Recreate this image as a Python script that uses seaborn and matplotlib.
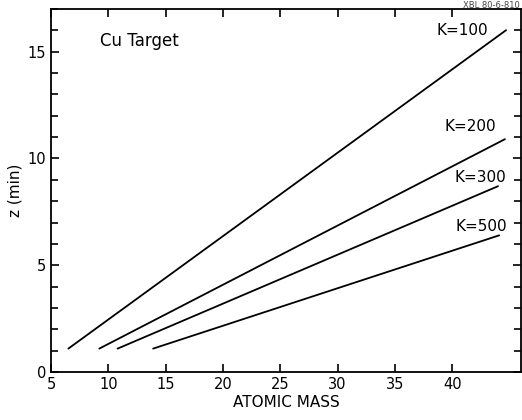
import numpy as np
import pandas as pd
import seaborn as sns
import matplotlib.pyplot as plt

# curves: start and end of each line
k_labels = ["K=100", "K=200", "K=300", "K=500"]
mass_start = [6.5, 9.2, 10.8, 13.9]
mass_end = [44.7, 44.6, 44.0, 44.1]
z_start = [1.1, 1.1, 1.1, 1.1]
z_end = [16.0, 10.9, 8.7, 6.4]

rows = []
for lab, m0, m1, z0, z1 in zip(k_labels, mass_start, mass_end, z_start, z_end):
    rows.append({"K": lab, "mass": m0, "z": z0})
    rows.append({"K": lab, "mass": m1, "z": z1})
df = pd.DataFrame(rows)

sns.set_style("ticks")
plt.rcParams["font.family"] = ["DejaVu Sans"]
plt.rcParams["text.color"] = "black"
plt.rcParams["axes.labelcolor"] = "black"
plt.rcParams["xtick.color"] = "black"
plt.rcParams["ytick.color"] = "black"
plt.rcParams["axes.edgecolor"] = "black"

fig = plt.figure(figsize=(5.22, 4.2), dpi=100)
ax = fig.add_axes([0.098, 0.114, 0.9, 0.865])

sns.lineplot(data=df, x="mass", y="z", units="K", estimator=None,
             color="black", linewidth=1.3, ax=ax, legend=False)

ax.set_xlim(5, 46)
ax.set_ylim(0, 17)
ax.set_xticks([5, 10, 15, 20, 25, 30, 35, 40])
ax.set_yticks([0, 5, 10, 15])
ax.set_yticks(np.arange(0, 18, 1), minor=True)
ax.tick_params(which="both", direction="in", top=True, right=True,
               labelsize=10.5, width=1.2)
ax.tick_params(which="major", length=6)
ax.tick_params(which="minor", length=5)
for s in ax.spines.values():
    s.set_linewidth(1.3)

ax.set_xlabel("ATOMIC MASS", fontsize=11, labelpad=2)
ax.set_ylabel("z (min)", fontsize=11, labelpad=4)

# curve labels
label_pos = [(40.9, 16.0), (41.6, 11.5), (42.5, 9.1), (42.5, 6.8)]
for lab, (x, y) in zip(k_labels, label_pos):
    ax.text(x, y, lab, fontsize=11, ha="center", va="center")

ax.text(9.3, 15.5, "Cu Target", fontsize=12, ha="left", va="center")
fig.text(0.995, 0.998, "XBL 80-6-810", fontsize=6, ha="right", va="top", color="#444444")

fig.savefig("out.png", dpi=100)
